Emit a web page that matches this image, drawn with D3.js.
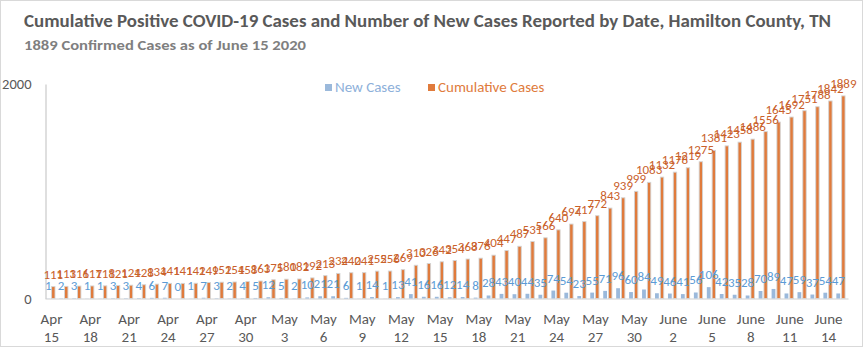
<!DOCTYPE html>
<html>
<head>
<meta charset="utf-8">
<script src="https://cdn.jsdelivr.net/npm/d3@7"></script>
<style>
  body { margin: 0; background: #fff; }
  text { font-family: Carlito, Calibri, 'Open Sans', sans-serif; }
</style>
</head>
<body>
<svg id="chart" width="864" height="352"></svg>
<script>
// daily data, Apr 15 - June 15 2020
var newCases = [1,2,3,1,1,3,3,4,6,7, 0,1,7,3,2,4,5,12,5,2,
                10,21,21,6,1,14,1,13,41,16, 16,12,14,8,28,43,40,44,35,74,
                54,23,55,71,96,60,84,49,46,41, 56,106,42,35,28,70,89,47,59,37,
                54,47];
var cumulative = [111,113,116,117,118,121,124,128,134,141, 141,142,149,152,154,158,163,175,180,182,
                  192,213,234,240,241,255,256,269,310,326, 342,354,368,376,404,447,487,531,566,640,
                  694,717,772,843,939,999,1083,1132,1178,1219, 1275,1381,1423,1458,1486,1556,1645,1692,1751,1788,
                  1842,1889];
var days = d3.timeDay.range(new Date(2020, 3, 15), new Date(2020, 5, 16));
var monthNames = ['Jan','Feb','Mar','Apr','May','June'];
var yTicks = [0, 2000];
var seriesNames = ['New Cases', 'Cumulative Cases'];

var svg = d3.select('#chart');

// outer frame
svg.append('rect')
  .attr('x', 0.5).attr('y', 0.5)
  .attr('width', 862).attr('height', 346)
  .attr('fill', '#fff')
  .attr('stroke', '#d9d9d9');

// titles
svg.append('text')
  .attr('x', 24).attr('y', 27)
  .attr('font-size', 17).attr('font-weight', 'bold')
  .attr('fill', '#595959')
  .attr('textLength', 807).attr('lengthAdjust', 'spacingAndGlyphs')
  .text('Cumulative Positive COVID-19 Cases and Number of New Cases Reported by Date, Hamilton County, TN');

svg.append('text')
  .attr('x', 24).attr('y', 50)
  .attr('font-size', 13).attr('font-weight', 'bold')
  .attr('fill', '#7f7f7f')
  .attr('textLength', 282).attr('lengthAdjust', 'spacingAndGlyphs')
  .text('1889 Confirmed Cases as of June 15 2020');

var x = d3.scaleBand().domain(d3.range(days.length)).range([45, 848]);
var y = d3.scaleLinear().domain([0, 2000]).range([298.5, 84]);

// y axis
var yAxis = svg.append('g')
  .attr('transform', 'translate(45.5,0)')
  .call(d3.axisLeft(y).tickValues(yTicks).tickSize(0).tickPadding(14).tickFormat(d3.format('d')));
yAxis.select('.domain').attr('stroke', '#bfbfbf');
yAxis.selectAll('text').attr('font-size', 14.5).attr('fill', '#595959')
  .attr('font-family', "Carlito, Calibri, 'Open Sans', sans-serif");

// x axis
var xAxis = svg.append('g')
  .attr('transform', 'translate(0,298.5)')
  .call(d3.axisBottom(x)
    .tickValues(d3.range(0, days.length, 3))
    .tickSize(0).tickSizeOuter(0)
    .tickFormat(''));
xAxis.select('.domain').attr('stroke', '#d0d0d0');
xAxis.selectAll('.tick').each(function(i) {
  var t = d3.select(this).select('text')
    .attr('font-size', 15).attr('fill', '#595959')
    .attr('font-family', "Carlito, Calibri, 'Open Sans', sans-serif")
    .attr('y', 0).attr('dy', null);
  t.append('tspan').attr('x', 0).attr('y', 25).text(monthNames[days[i].getMonth()]);
  t.append('tspan').attr('x', 0).attr('y', 43).text(days[i].getDate());
});

// bars
var g = svg.append('g');

g.selectAll('.newbar')
  .data(newCases)
  .enter().append('rect')
    .attr('class', 'newbar')
    .attr('x', function(d, i) { return x(i) + 1.3; })
    .attr('y', function(d) { return y(d); })
    .attr('width', 3.8)
    .attr('height', function(d) { return y(0) - y(d); })
    .attr('fill', '#9bb9db');

g.selectAll('.cumbar')
  .data(cumulative)
  .enter().append('rect')
    .attr('class', 'cumbar')
    .attr('x', function(d, i) { return x(i) + 6.6; })
    .attr('y', function(d) { return y(d); })
    .attr('width', 3.4)
    .attr('height', function(d) { return y(0) - y(d); })
    .attr('fill', '#e07b3c')
    .attr('stroke', '#d4d4d4')
    .attr('stroke-width', 0.9);

// data labels
g.selectAll('.newlab')
  .data(newCases)
  .enter().append('text')
    .attr('class', 'newlab')
    .attr('x', function(d, i) { return x(i) + 3.2; })
    .attr('y', function(d) { return y(d) - 8; })
    .attr('text-anchor', 'middle')
    .attr('font-size', 13)
    .attr('fill', '#5b9bd5')
    .text(function(d) { return d; });

g.selectAll('.cumlab')
  .data(cumulative)
  .enter().append('text')
    .attr('class', 'cumlab')
    .attr('x', function(d, i) { return x(i) + 8.3; })
    .attr('y', function(d) { return y(d) - 8; })
    .attr('text-anchor', 'middle')
    .attr('font-size', 13)
    .attr('fill', '#c9602a')
    .text(function(d) { return d; });

// legend
var legend = [
  { name: seriesNames[0], sq: '#9bb9db', txt: '#8db0da', x: 325 },
  { name: seriesNames[1], sq: '#e07b3c', txt: '#e07b3c', x: 428 }
];
var lg = svg.selectAll('.legend')
  .data(legend)
  .enter().append('g')
    .attr('class', 'legend')
    .attr('transform', function(d) { return 'translate(' + d.x + ',0)'; });
lg.append('rect')
  .attr('x', 0).attr('y', 84)
  .attr('width', 7).attr('height', 7)
  .attr('fill', function(d) { return d.sq; });
lg.append('text')
  .attr('x', 10).attr('y', 92)
  .attr('font-size', 15)
  .attr('fill', function(d) { return d.txt; })
  .text(function(d) { return d.name; });
</script>
</body>
</html>
